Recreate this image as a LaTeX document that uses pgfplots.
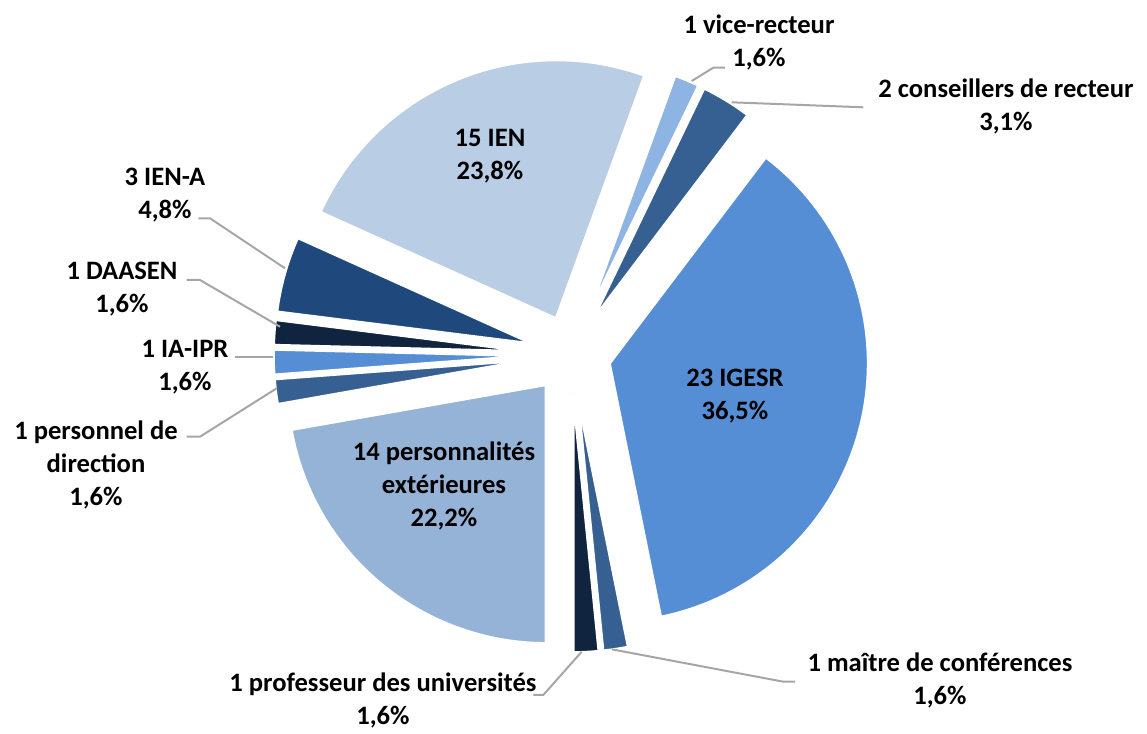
\documentclass[border=0pt]{standalone}
\usepackage{fontspec}
\setmainfont{Carlito}
\usepackage{pgfplots}
\pgfplotsset{compat=1.18}
\definecolor{cVice}{HTML}{8DB4E2}
\definecolor{cCons}{HTML}{376092}
\definecolor{cIGESR}{HTML}{558ED5}
\definecolor{cMaitre}{HTML}{376092}
\definecolor{cProf}{HTML}{10243F}
\definecolor{cExt}{HTML}{95B3D7}
\definecolor{cDir}{HTML}{376092}
\definecolor{cIAIPR}{HTML}{558ED5}
\definecolor{cDAASEN}{HTML}{10243F}
\definecolor{cIENA}{HTML}{1F497D}
\definecolor{cIEN}{HTML}{B9CDE5}
\definecolor{leader}{HTML}{A6A6A6}
% #1 = count before this slice, #2 = count of the slice, #3 = colour (total 63)
\newcommand\slice[3]{%
  \pgfmathsetmacro\tA{90-20-#1*(360/63)}%
  \pgfmathsetmacro\tB{\tA-#2*(360/63)}%
  \pgfmathsetmacro\tM{(\tA+\tB)/2}%
  \pgfmathsetmacro\ax{571.3+39*cos(\tM)}%
  \pgfmathsetmacro\ay{379.3+39*sin(\tM)}%
  \edef\doit{\noexpand\addplot[fill=#3, draw=white, line width=1.5pt, domain=\tB:\tA, samples=80]
    ({\ax+259*cos(x)},{\ay+259*sin(x)}) -- (axis cs:\ax,\ay) -- cycle;}%
  \doit}
\begin{document}
\begin{tikzpicture}
\begin{axis}[scale only axis, width=573.5pt, height=367pt,
  xmin=0, xmax=1147, ymin=0, ymax=734, hide axis, clip=false]
\path (rel axis cs:0,0) rectangle (rel axis cs:1,1);
\slice{0}{1}{cVice}
\slice{1}{2}{cCons}
\slice{3}{23}{cIGESR}
\slice{26}{1}{cMaitre}
\slice{27}{1}{cProf}
\slice{28}{14}{cExt}
\slice{42}{1}{cDir}
\slice{43}{1}{cIAIPR}
\slice{44}{1}{cDAASEN}
\slice{45}{3}{cIENA}
\slice{48}{15}{cIEN}
% leader lines
\pgfplotsset{every axis plot/.append style={}}
\addplot[leader, line width=1pt] coordinates {(691.7,653) (713.3,666.3) (725,666.3)};
\addplot[leader, line width=1pt] coordinates {(731.7,631.7) (863.3,626.7)};
\addplot[leader, line width=1pt] coordinates {(285,465.7) (210,515.7) (198.3,515.7)};
\addplot[leader, line width=1pt] coordinates {(280,407.3) (200,454) (186.7,454)};
\addplot[leader, line width=1pt] coordinates {(273.3,377.3) (235,377.3)};
\addplot[leader, line width=1pt] coordinates {(276.7,345.7) (200,297.3) (186.7,297.3)};
\addplot[leader, line width=1pt] coordinates {(581.7,82.3) (543.3,39) (533.3,39)};
\addplot[leader, line width=1pt] coordinates {(611.7,84.7) (783.3,52.3) (795,52.3)};
% labels
\tikzset{lab/.style={font=\bfseries\fontsize{13.3}{16.5}\selectfont, align=center, inner sep=0pt}}
\node[lab] at (axis cs:490,578) {15 IEN\\23,8\%};
\node[lab] at (axis cs:735,338) {23 IGESR\\36,5\%};
\node[lab] at (axis cs:444,248) {14 personnalités\\extérieures\\22,2\%};
\node[lab] at (axis cs:759,691.5) {1 vice-recteur\\1,6\%};
\node[lab] at (axis cs:1006,627.5) {2 conseillers de recteur\\3,1\%};
\node[lab] at (axis cs:165,539) {3 IEN-A\\4,8\%};
\node[lab] at (axis cs:122,444.5) {1 DAASEN\\1,6\%};
\node[lab] at (axis cs:185,366.5) {1 IA-IPR\\1,6\%};
\node[lab] at (axis cs:96,269) {1 personnel de\\direction\\1,6\%};
\node[lab] at (axis cs:383,33.5) {1 professeur des universités\\1,6\%};
\node[lab] at (axis cs:940,53.5) {1 maître de conférences\\1,6\%};
\end{axis}
\end{tikzpicture}
\end{document}
